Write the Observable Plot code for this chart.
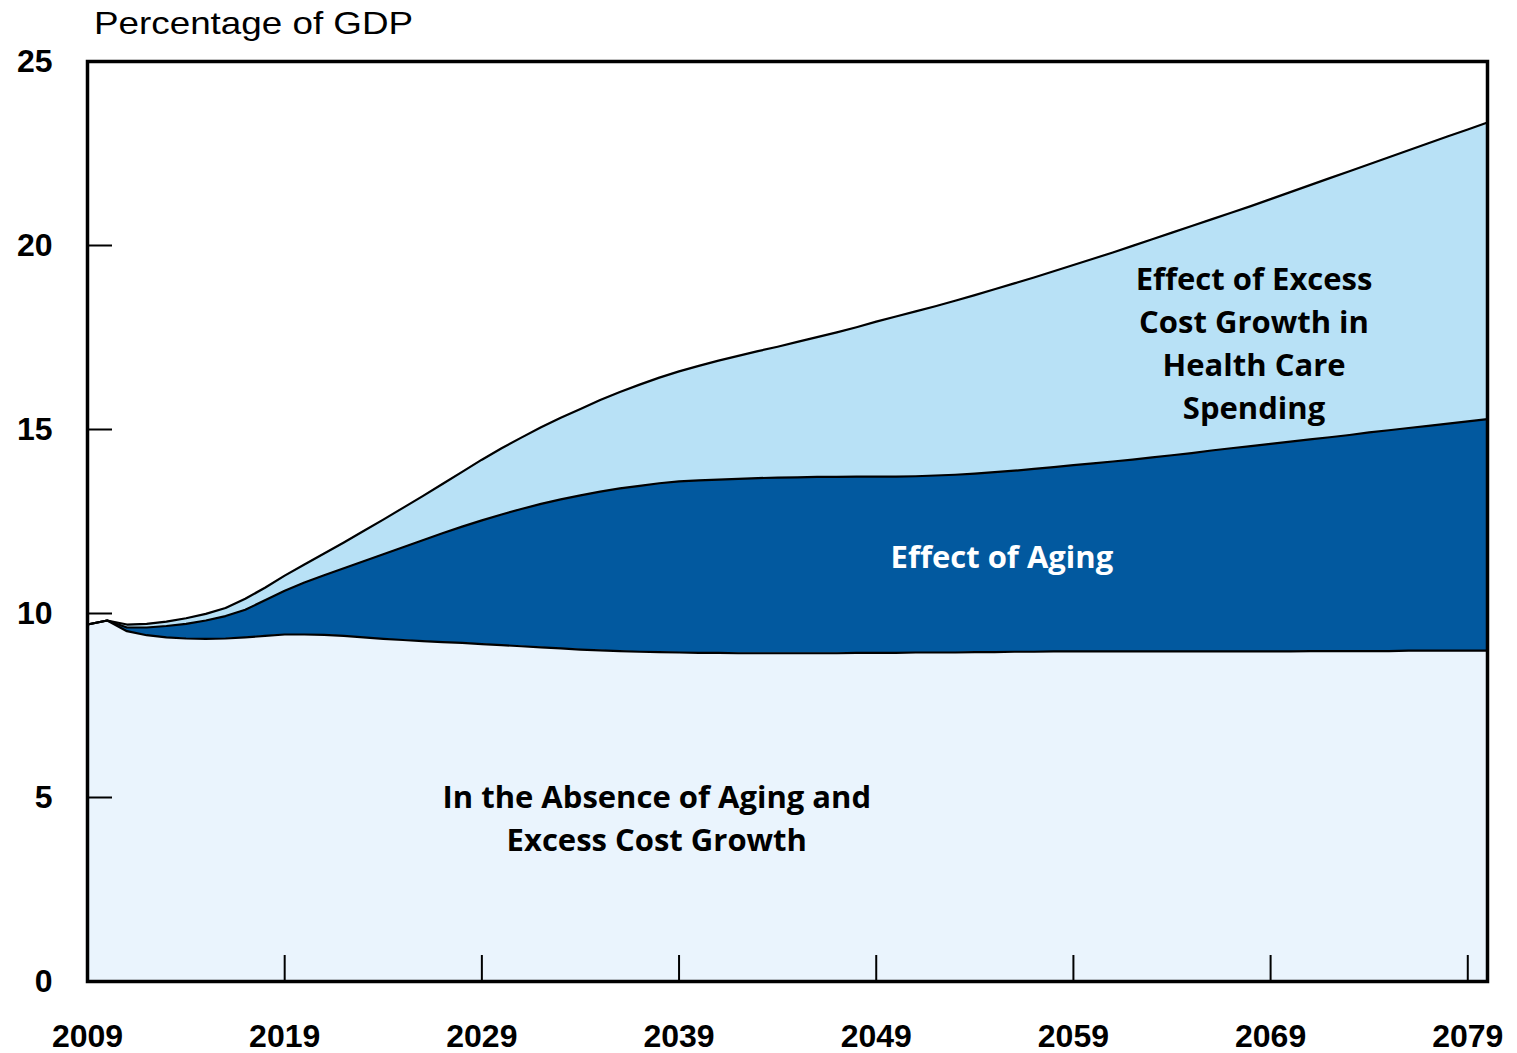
<!DOCTYPE html>
<html><head><meta charset="utf-8">
<script src="https://cdn.jsdelivr.net/npm/d3@7"></script>
<script src="https://cdn.jsdelivr.net/npm/@observablehq/plot@0.6"></script>
<style>
body{margin:0;background:#fff;}
#wrap{position:relative;width:1517px;height:1053px;}
#title{position:absolute;left:94px;top:7px;font-family:"Liberation Sans",Arial,sans-serif;font-size:32px;line-height:32px;transform-origin:left top;transform:scaleX(1.15);color:#000;white-space:nowrap;z-index:2;}
</style></head><body>
<div id="wrap"><div id="title">Percentage of GDP</div></div>
<script>
const years = [2009,2010,2011,2012,2013,2014,2015,2016,2017,2018,2019,2020,2021,2022,2023,2024,2025,2026,2027,2028,2029,2030,2031,2032,2033,2034,2035,2036,2037,2038,2039,2040,2041,2042,2043,2044,2045,2046,2047,2048,2049,2050,2051,2052,2053,2054,2055,2056,2057,2058,2059,2060,2061,2062,2063,2064,2065,2066,2067,2068,2069,2070,2071,2072,2073,2074,2075,2076,2077,2078,2079,2080];
// Spending in the absence of aging and excess cost growth
const baseline = [9.70,9.81,9.52,9.41,9.35,9.32,9.31,9.32,9.35,9.39,9.43,9.43,9.42,9.39,9.35,9.31,9.28,9.25,9.22,9.20,9.17,9.14,9.11,9.08,9.05,9.02,9.00,8.98,8.96,8.95,8.94,8.93,8.93,8.92,8.92,8.92,8.92,8.92,8.92,8.93,8.93,8.93,8.94,8.94,8.94,8.95,8.95,8.96,8.96,8.97,8.97,8.97,8.97,8.97,8.97,8.97,8.97,8.97,8.97,8.97,8.97,8.97,8.98,8.98,8.98,8.98,8.98,8.99,8.99,8.99,8.99,8.99];
// Cumulative: baseline + effect of aging
const withAging = [9.70,9.81,9.62,9.62,9.66,9.72,9.81,9.93,10.10,10.36,10.62,10.84,11.04,11.23,11.42,11.61,11.80,11.99,12.18,12.36,12.53,12.69,12.84,12.98,13.10,13.21,13.31,13.40,13.47,13.54,13.59,13.62,13.64,13.66,13.68,13.69,13.70,13.71,13.71,13.72,13.72,13.72,13.73,13.75,13.77,13.80,13.84,13.88,13.93,13.98,14.03,14.08,14.13,14.18,14.24,14.30,14.36,14.43,14.49,14.55,14.61,14.67,14.73,14.79,14.85,14.92,14.98,15.04,15.10,15.16,15.22,15.28];
// Cumulative: total including excess cost growth
const total = [9.70,9.81,9.70,9.72,9.78,9.87,9.99,10.15,10.40,10.70,11.03,11.33,11.63,11.93,12.24,12.55,12.87,13.19,13.52,13.85,14.18,14.49,14.78,15.06,15.32,15.56,15.80,16.02,16.22,16.41,16.58,16.73,16.87,17.00,17.13,17.25,17.38,17.51,17.64,17.78,17.93,18.07,18.21,18.35,18.50,18.65,18.81,18.97,19.13,19.30,19.47,19.64,19.81,19.99,20.17,20.35,20.53,20.71,20.89,21.07,21.26,21.45,21.64,21.83,22.02,22.21,22.40,22.59,22.78,22.97,23.15,23.34];
const xTicks = [2009,2019,2029,2039,2049,2059,2069,2079];
const yTicks = [0,5,10,15,20,25];
const seriesLabels = ["In the Absence of Aging and\nExcess Cost Growth", "Effect of Aging", "Effect of Excess\nCost Growth in\nHealth Care\nSpending"];
const colors = {base:"#eaf4fd", aging:"#02599f", excess:"#b8e1f6"};

const rows = years.map((yr,i)=>({year:yr, base:baseline[i], aging:withAging[i], total:total[i]}));

const labelFont = {fontFamily:"'Open Sans', 'Noto Sans', sans-serif", fontWeight:700, fontSize:31, lineHeight:1.39};
const tickFont = {fontFamily:"'Liberation Sans', Arial, sans-serif", fontWeight:"bold", fontSize:32, fill:"black"};

const chart = Plot.plot({
  width:1517, height:1053,
  marginLeft:87, marginRight:30, marginTop:61, marginBottom:72,
  style:{background:"white", color:"black", overflow:"visible"},
  x:{domain:[2009,2080], label:null},
  y:{domain:[0,25], label:null},
  marks:[
    Plot.areaY(rows, {x:"year", y1:0, y2:"base", fill:colors.base}),
    Plot.areaY(rows, {x:"year", y1:"base", y2:"aging", fill:colors.aging}),
    Plot.areaY(rows, {x:"year", y1:"aging", y2:"total", fill:colors.excess}),
    Plot.lineY(rows, {x:"year", y:"base", stroke:"black", strokeWidth:2.2}),
    Plot.lineY(rows, {x:"year", y:"aging", stroke:"black", strokeWidth:2.2}),
    Plot.lineY(rows, {x:"year", y:"total", stroke:"black", strokeWidth:2.2}),
    Plot.tickX(xTicks, {x:d=>d, insetTop:894, stroke:"black", strokeWidth:2}),
    Plot.tickY(yTicks, {y:d=>d, insetRight:1375, stroke:"black", strokeWidth:2}),
    Plot.frame({stroke:"black", strokeWidth:3.5}),
    Plot.axisX(xTicks, {tickSize:0, tickPadding:43, tickFormat:d=>String(d), label:null, ...tickFont}),
    Plot.axisY(yTicks, {tickSize:0, tickPadding:35, tickFormat:d=>String(d), label:null, ...tickFont}),
    Plot.text([seriesLabels[0]], {x:2037.87, y:4.50, text:d=>d, fill:"black", ...labelFont}),
    Plot.text([seriesLabels[1]], {x:2055.37, y:11.60, text:d=>d, fill:"white", ...labelFont}),
    Plot.text([seriesLabels[2]], {x:2068.16, y:17.41, text:d=>d, fill:"black", ...labelFont})
  ]
});
document.getElementById("wrap").appendChild(chart);
</script>
</body></html>
